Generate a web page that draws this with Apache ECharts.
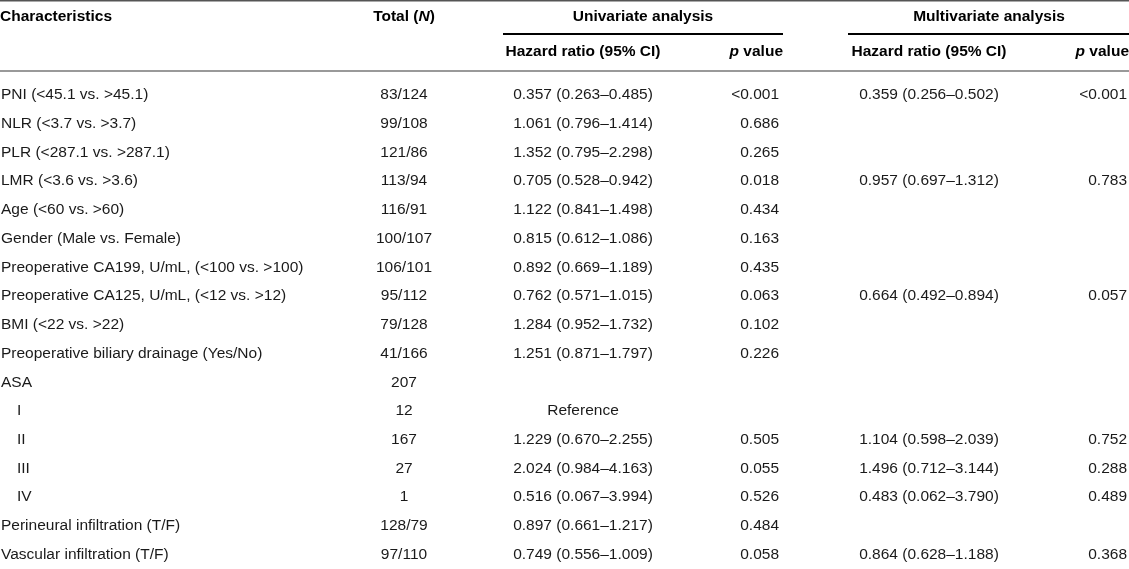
<!DOCTYPE html>
<html>
<head>
<meta charset="utf-8">
<script src="https://cdn.jsdelivr.net/npm/echarts@6/dist/echarts.min.js"></script>
<style>
html,body{margin:0;padding:0;background:#fff;}
#coxTable{width:1129px;height:569px;}
</style>
</head>
<body>
<div id="coxTable"></div>
<script>
// rows of the table
var characteristics = ['PNI (<45.1 vs. >45.1)','NLR (<3.7 vs. >3.7)','PLR (<287.1 vs. >287.1)','LMR (<3.6 vs. >3.6)','Age (<60 vs. >60)','Gender (Male vs. Female)','Preoperative CA199, U/mL, (<100 vs. >100)','Preoperative CA125, U/mL, (<12 vs. >12)','BMI (<22 vs. >22)','Preoperative biliary drainage (Yes/No)','ASA','I','II','III','IV','Perineural infiltration (T/F)','Vascular infiltration (T/F)']
var subLevel = [0,0,0,0,0,0,0,0,0,0,0,1,1,1,1,0,0]
var totals = ['83/124','99/108','121/86','113/94','116/91','100/107','106/101','95/112','79/128','41/166','207','12','167','27','1','128/79','97/110']
var uniHR = ['0.357 (0.263–0.485)','1.061 (0.796–1.414)','1.352 (0.795–2.298)','0.705 (0.528–0.942)','1.122 (0.841–1.498)','0.815 (0.612–1.086)','0.892 (0.669–1.189)','0.762 (0.571–1.015)','1.284 (0.952–1.732)','1.251 (0.871–1.797)','','Reference','1.229 (0.670–2.255)','2.024 (0.984–4.163)','0.516 (0.067–3.994)','0.897 (0.661–1.217)','0.749 (0.556–1.009)']
var uniP = ['<0.001','0.686','0.265','0.018','0.434','0.163','0.435','0.063','0.102','0.226','','','0.505','0.055','0.526','0.484','0.058']
var multiHR = ['0.359 (0.256–0.502)','','','0.957 (0.697–1.312)','','','','0.664 (0.492–0.894)','','','','','1.104 (0.598–2.039)','1.496 (0.712–3.144)','0.483 (0.062–3.790)','','0.864 (0.628–1.188)']
var multiP = ['<0.001','','','0.783','','','','0.057','','','','','0.752','0.288','0.489','','0.368']

var fontFam = '"Liberation Sans", Arial, sans-serif'
var txtColor = '#1a1a1a'
var fSize = 15.5

var coxTable = echarts.init(document.getElementById('coxTable'))

function cell(x, y, text, align) {
	return {
		type: 'text',
		style: {
			x: x, y: y, text: text,
			textAlign: align, textVerticalAlign: 'middle',
			fill: txtColor, fontSize: fSize, fontFamily: fontFam
		}
	}
}

function headText(x, y, text, align, rich) {
	return {
		type: 'text',
		style: {
			x: x, y: y, text: text,
			align: align, verticalAlign: 'middle',
			fill: '#000', fontSize: fSize, fontWeight: 'bold', fontFamily: fontFam,
			rich: rich
		}
	}
}

var italicRich = {
	it: {fontStyle: 'italic', fontWeight: 'bold', fontSize: fSize, fontFamily: fontFam, fill: '#000'}
}

var optionCox = {
	animation: false,
	grid: {left: 0, width: 1129, top: 80.5, height: 493},
	xAxis: {type: 'value', min: 0, max: 1129, show: false},
	yAxis: {type: 'category', data: characteristics, inverse: true, show: false},
	graphic: [
		// rules
		{type: 'line', shape: {x1: 0, y1: 0.75, x2: 1129, y2: 0.75}, style: {stroke: '#555', lineWidth: 1.5}},
		{type: 'line', shape: {x1: 0, y1: 71, x2: 1129, y2: 71}, style: {stroke: '#777', lineWidth: 1.5}},
		{type: 'line', shape: {x1: 503, y1: 34, x2: 783, y2: 34}, style: {stroke: '#000', lineWidth: 2}},
		{type: 'line', shape: {x1: 848, y1: 34, x2: 1129, y2: 34}, style: {stroke: '#000', lineWidth: 2}},
		// header texts
		headText(0, 17, 'Characteristics', 'left'),
		headText(404, 17, 'Total ({it|N})', 'center', italicRich),
		headText(643, 17, 'Univariate analysis', 'center'),
		headText(989, 17, 'Multivariate analysis', 'center'),
		headText(583, 52, 'Hazard ratio (95% CI)', 'center'),
		headText(783, 52, '{it|p} value', 'right', italicRich),
		headText(929, 52, 'Hazard ratio (95% CI)', 'center'),
		headText(1129, 52, '{it|p} value', 'right', italicRich)
	],
	series: [
		{
			type: 'custom',
			clip: false,
			renderItem: function (params, api) {
				var i = api.value(1)
				var y = api.coord([0, i])[1]
				var cx = function (v) { return api.coord([v, i])[0] }
				return {
					type: 'group',
					children: [
						cell(cx(subLevel[i] ? 17 : 1), y, characteristics[i], 'left'),
						cell(cx(404), y, totals[i], 'center'),
						cell(cx(583), y, uniHR[i], 'center'),
						cell(cx(779), y, uniP[i], 'right'),
						cell(cx(929), y, multiHR[i], 'center'),
						cell(cx(1127), y, multiP[i], 'right')
					]
				}
			},
			data: characteristics.map(function (c, i) { return [0, i] })
		}
	]
}
coxTable.setOption(optionCox)
</script>
</body>
</html>
